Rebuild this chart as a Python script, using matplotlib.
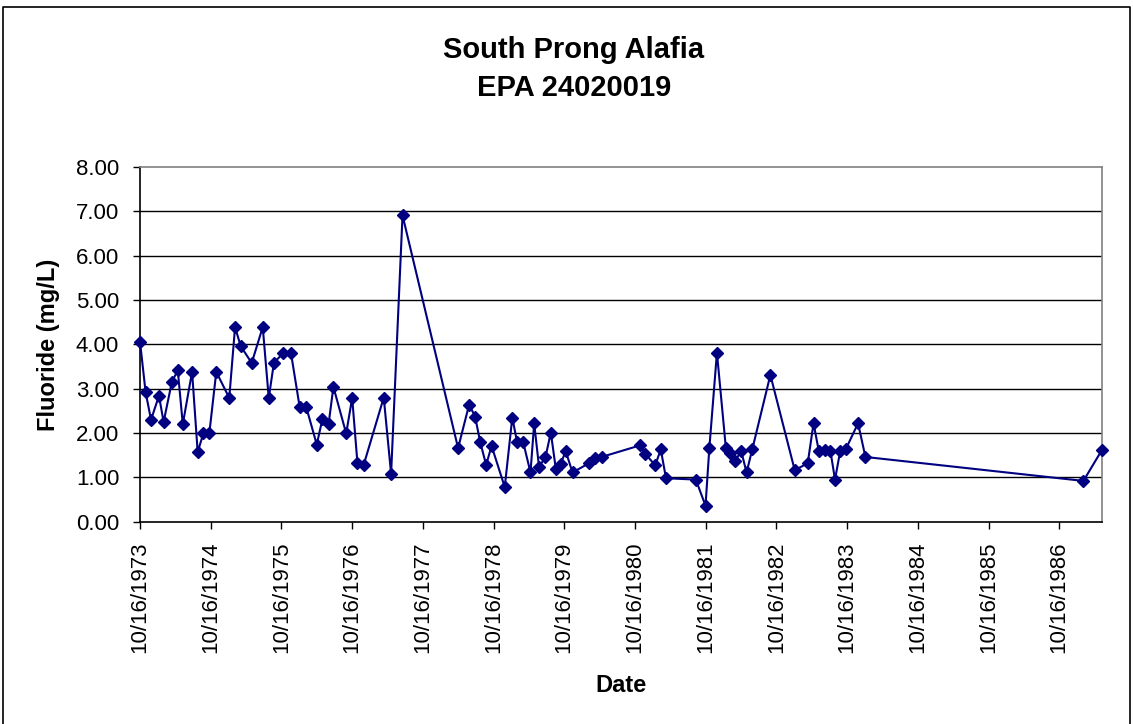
import matplotlib
matplotlib.use("Agg")
import matplotlib.pyplot as plt
import matplotlib.dates as mdates
from matplotlib.lines import Line2D
import pandas as pd

plt.rcParams['font.family'] = ['Liberation Sans', 'DejaVu Sans']

title_lines = ["South Prong Alafia", "EPA 24020019"]
x_label = "Date"
y_label = "Fluoride (mg/L)"

dates = [
    "1973-10-16", "1973-11-14", "1973-12-12", "1974-01-22", "1974-02-15", "1974-03-29",
    "1974-04-29", "1974-05-25", "1974-07-12", "1974-08-10", "1974-09-08", "1974-10-09",
    "1974-11-14", "1975-01-20", "1975-02-19", "1975-03-20", "1975-05-16", "1975-07-12",
    "1975-08-12", "1975-09-08", "1975-10-26", "1975-12-05", "1976-01-19", "1976-02-22",
    "1976-04-16", "1976-05-15", "1976-06-16", "1976-07-11", "1976-09-15", "1976-10-16",
    "1976-11-12", "1976-12-15", "1977-03-28", "1977-05-05", "1977-07-03", "1978-04-16",
    "1978-06-12", "1978-07-13", "1978-08-08", "1978-09-08", "1978-10-06", "1978-12-13",
    "1979-01-21", "1979-02-15", "1979-03-18", "1979-04-25", "1979-05-14", "1979-06-08",
    "1979-07-11", "1979-08-08", "1979-09-03", "1979-09-28", "1979-10-24", "1979-11-28",
    "1980-02-22", "1980-03-22", "1980-04-26", "1980-11-10", "1980-12-09", "1981-01-28",
    "1981-02-26", "1981-03-25", "1981-08-26", "1981-10-15", "1981-11-04", "1981-12-13",
    "1982-01-28", "1982-02-21", "1982-03-18", "1982-04-17", "1982-05-15", "1982-06-14",
    "1982-09-15", "1983-01-19", "1983-03-27", "1983-04-26", "1983-05-23", "1983-06-23",
    "1983-07-22", "1983-08-15", "1983-09-11", "1983-10-09", "1983-12-12", "1984-01-19",
    "1987-02-18", "1987-05-25",
]
fluoride = [
    4.06, 2.92, 2.30, 2.84, 2.25, 3.14,
    3.42, 2.20, 3.38, 1.57, 1.99, 1.99,
    3.38, 2.79, 4.39, 3.96, 3.58, 4.39,
    2.79, 3.59, 3.80, 3.80, 2.58, 2.58,
    1.74, 2.31, 2.20, 3.04, 1.99, 2.79,
    1.33, 1.29, 2.80, 1.08, 6.91, 1.66,
    2.64, 2.37, 1.80, 1.28, 1.71, 0.78,
    2.35, 1.79, 1.80, 1.11, 2.22, 1.24,
    1.45, 2.01, 1.19, 1.31, 1.59, 1.11,
    1.32, 1.43, 1.46, 1.72, 1.53, 1.27,
    1.63, 0.98, 0.95, 0.36, 1.67, 3.81,
    1.67, 1.55, 1.37, 1.60, 1.11, 1.64,
    3.31, 1.16, 1.32, 2.22, 1.60, 1.62,
    1.60, 0.95, 1.60, 1.63, 2.22, 1.46,
    0.92, 1.62,
]
tick_years = list(range(1973, 1987))
y_ticks = [0, 1, 2, 3, 4, 5, 6, 7, 8]

x = pd.to_datetime(dates)
tick_dates = pd.to_datetime([f"{y}-10-16" for y in tick_years])

W, H = 1133, 724
fig = plt.figure(figsize=(W / 100, H / 100), dpi=100)
ax = fig.add_axes([140 / W, 1 - 521.7 / H, (1102 - 140) / W, (521.7 - 167) / H])

for yv in y_ticks[1:-1]:
    ax.axhline(yv, color='black', lw=1.0, zorder=1)

ax.plot(x, fluoride, color='#000080', lw=1.5, marker='D', markersize=6,
        markerfacecolor='#000080', markeredgecolor='#000080', zorder=3, clip_on=False)

ax.set_xlim(x[0], x[-1])
ax.set_ylim(0, 8)
ax.set_yticks(y_ticks)
ax.set_yticklabels([f"{v:.2f}" for v in y_ticks])
ax.set_xticks(tick_dates)
ax.xaxis.set_major_formatter(mdates.DateFormatter('%m/%d/%Y'))
plt.setp(ax.get_xticklabels(), rotation=90, ha='center')

ax.tick_params(axis='both', direction='out', length=5, width=1, color='black',
               labelsize=16, labelcolor='black')
ax.tick_params(axis='y', pad=10)
ax.tick_params(axis='x', pad=9)

for s in ['top', 'right']:
    ax.spines[s].set_color('#808080')
    ax.spines[s].set_linewidth(1.2)
for s in ['left', 'bottom']:
    ax.spines[s].set_color('black')
    ax.spines[s].set_linewidth(1.2)

fig.text(574 / W, 1 - 50 / H, title_lines[0], ha='center', va='center',
         fontsize=21, fontweight='bold')
fig.text(574 / W, 1 - 88 / H, title_lines[1], ha='center', va='center',
         fontsize=21, fontweight='bold')
fig.text(621 / W, 1 - 686 / H, x_label, ha='center', va='center',
         fontsize=17, fontweight='bold')
fig.text(48 / W, 1 - 345 / H, y_label, ha='center', va='center', rotation=90,
         fontsize=17, fontweight='bold')

# chart-area border (bottom edge cut off in the reference)
bx0, bx1, by_top = 3 / W, 1130 / W, 1 - 7 / H
fig.add_artist(Line2D([bx0, bx0, bx1, bx1], [0, by_top, by_top, 0],
                      transform=fig.transFigure, color='black', lw=1.2))

fig.savefig("out.png", dpi=100)
